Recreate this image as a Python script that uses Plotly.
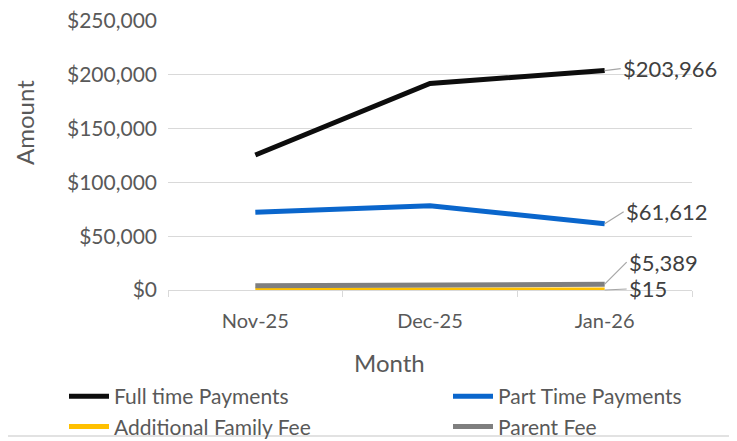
import plotly.graph_objects as go

months = ["Nov-25", "Dec-25", "Jan-26"]
full_time = [125500, 192000, 203966]
part_time = [72300, 78300, 61612]
additional_fee = [20, 15, 15]
parent_fee = [3900, 4800, 5389]

series_names = ["Full time Payments", "Part Time Payments", "Additional Family Fee", "Parent Fee"]
series_values = [full_time, part_time, additional_fee, parent_fee]
series_colors = ["#0d0d0d", "#0a66cc", "#ffc000", "#7f7f7f"]
series_legends = ["legend", "legend2", "legend", "legend2"]

FONT = "Lato"
TXT = "#595959"

# plot area in figure pixels (page renders the figure with an 8px body offset)
L, T, W, H = 160, 13, 524, 269
B = T + H


def px_x(p):  # page pixel -> paper x
    return (p - 8 - L) / W


def px_y(p):  # page pixel -> paper y
    return (B - (p - 8)) / H


fig = go.Figure()
for name, vals, col, lg in zip(series_names, series_values, series_colors, series_legends):
    fig.add_trace(go.Scatter(x=months, y=vals, name=name, mode="lines", legend=lg,
                             line=dict(color=col, width=5)))

# data labels for last points
label_offsets = {"Full time Payments": (16, -2), "Part Time Payments": (19, -12),
                 "Additional Family Fee": (22, -1), "Parent Fee": (22, -22)}
for name, vals in zip(series_names, series_values):
    ax, ay = label_offsets[name]
    fig.add_annotation(x=months[-1], y=vals[-1], text="${:,}".format(vals[-1]),
                       showarrow=True, arrowhead=0, arrowwidth=1.2, arrowcolor="#a6a6a6",
                       ax=ax, ay=ay, xanchor="left", yanchor="middle",
                       font=dict(family=FONT, size=22, color="#404040"))

# axis titles
fig.add_annotation(text="Amount", xref="paper", yref="paper", x=px_x(24), y=px_y(123),
                   textangle=-90, showarrow=False, xanchor="center", yanchor="middle",
                   font=dict(family=FONT, size=24, color=TXT))
fig.add_annotation(text="Month", xref="paper", yref="paper", x=px_x(389), y=px_y(363),
                   showarrow=False, xanchor="center", yanchor="middle",
                   font=dict(family=FONT, size=24, color=TXT))

legend_style = dict(orientation="v", xanchor="left", yanchor="top", tracegroupgap=0,
                    bgcolor="rgba(0,0,0,0)", font=dict(family=FONT, size=21, color=TXT),
                    itemwidth=40)

fig.update_layout(
    width=737, height=441,
    margin=dict(l=L, r=737 - L - W, t=T, b=441 - B, autoexpand=False),
    paper_bgcolor="white", plot_bgcolor="white",
    font=dict(family=FONT, size=20, color=TXT),
    showlegend=True,
    legend=dict(x=px_x(114 - 50), y=px_y(376), **legend_style),
    legend2=dict(x=px_x(498 - 50), y=px_y(376), **legend_style),
    xaxis=dict(type="category", range=[-0.5, 2.5], showgrid=False, showline=True,
               linecolor="#d9d9d9", linewidth=1,
               ticks="outside", tickson="boundaries", ticklen=6, tickcolor="#d9d9d9",
               ticklabelstandoff=13,
               tickfont=dict(family=FONT, size=20, color=TXT)),
    yaxis=dict(range=[0, 250000], dtick=50000, tickprefix="$", tickformat=",d",
               showgrid=True, gridcolor="#d9d9d9", gridwidth=1, zeroline=False, showline=False,
               ticks="", ticklabelstandoff=10, ticklabeloverflow="allow",
               tickfont=dict(family=FONT, size=21, color=TXT)),
)

fig.add_shape(type="line", xref="paper", yref="paper",
              x0=px_x(0), x1=px_x(745), y0=px_y(436), y1=px_y(436),
              line=dict(color="#d9d9d9", width=1.5))

fig.write_html("out.html")
